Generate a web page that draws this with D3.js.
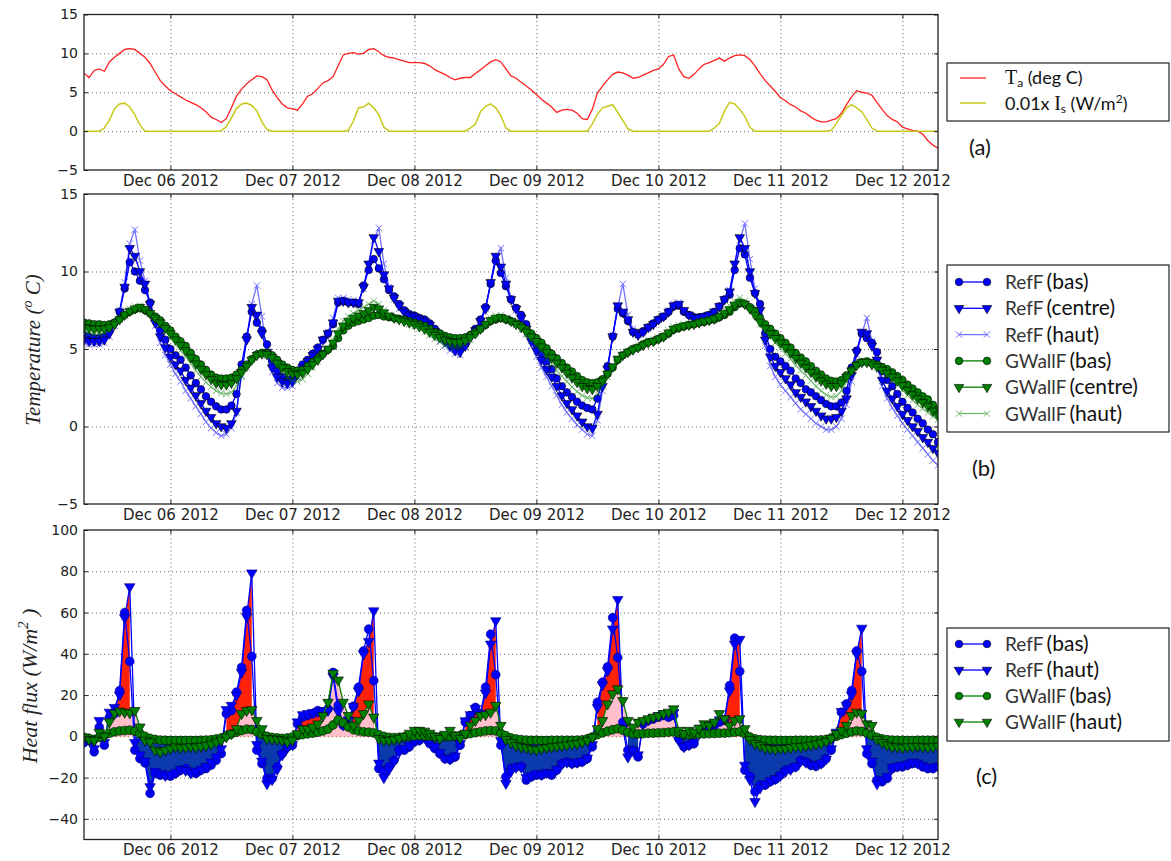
<!DOCTYPE html>
<html><head><meta charset="utf-8">
<script src="https://cdn.jsdelivr.net/npm/d3@7"></script>
<style>body{margin:0;background:#fff;} svg{display:block;}</style>
</head><body><svg id="c" width="1171" height="861"></svg>
<script>
// ---------- data (hourly, starting 2012-12-05 07:00) ----------
const startTime = "2012-12-05T07:00:00Z";
const endTime = "2012-12-12T07:00:00Z";
const dayTicks = ["2012-12-06","2012-12-07","2012-12-08","2012-12-09","2012-12-10","2012-12-11","2012-12-12"];
const tempTicks = [-5, 0, 5, 10, 15];
const fluxTicks = [-50, -40, -20, 0, 20, 40, 60, 80, 100];

// (a) air temperature and 0.01 x solar irradiance
const Ta = [7.45,6.9,7.8,8.0,7.7,8.9,9.5,10.0,10.5,10.6,10.5,10.0,
9.5,8.7,7.6,6.5,5.8,5.2,4.8,4.4,4.0,3.7,3.4,3.0,
2.5,1.8,1.5,1.1,1.6,3.0,4.5,5.4,6.1,6.6,7.1,7.0,
6.6,5.3,4.3,3.5,3.0,2.9,2.7,3.5,4.5,4.8,5.5,6.2,
6.5,7.0,8.4,9.8,10.0,10.1,9.9,10.0,10.5,10.6,10.2,9.7,
9.5,9.4,9.2,9.0,8.8,8.8,8.8,8.7,8.4,7.9,7.6,7.3,
6.9,6.6,6.8,6.9,6.9,7.4,7.9,8.4,8.9,9.2,8.9,8.0,
7.1,6.8,6.3,5.8,5.3,4.7,4.1,3.6,3.1,2.4,2.7,2.8,
2.7,2.3,1.6,1.5,2.8,4.9,5.8,6.6,7.3,7.6,7.5,7.2,
6.8,6.9,7.2,7.5,7.8,8.0,8.6,9.6,9.8,8.0,7.0,6.8,
7.3,8.0,8.6,8.8,9.1,9.4,9.0,9.4,9.7,9.8,9.7,9.2,
8.4,7.4,6.5,5.8,5.1,4.3,3.9,3.4,3.1,2.6,2.3,1.8,
1.4,1.2,1.2,1.4,1.6,2.3,3.4,4.4,5.2,5.0,4.9,4.6,
3.7,2.8,2.0,1.5,1.2,0.5,0.3,0.1,0.0,-0.4,-1.2,-1.8,
-2.2];
const Is001 = [0,0,0,0,0.4,1.4,2.9,3.5,3.6,3.1,2.1,0.8,
0,0,0,0,0,0,0,0,0,0,0,0,
0,0,0,0.05,0.6,1.7,2.9,3.5,3.6,3.3,2.6,1.2,
0.2,0,0,0,0,0,0,0,0,0,0,0,
0,0,0,0,0.1,1.3,3.0,3.1,3.6,3.0,2.1,0.5,
0,0,0,0,0,0,0,0,0,0,0,0,
0,0,0,0,0.4,0.9,2.5,3.2,3.5,3.0,2.0,0.4,
0,0,0,0,0,0,0,0,0,0,0,0,
0,0,0,0,0.9,2.2,3.0,3.2,3.4,2.4,1.4,0.3,
0,0,0,0,0,0,0,0,0,0,0,0,
0,0,0,0,0.4,1.0,2.6,3.7,3.5,2.8,1.9,0.5,
0,0,0,0,0,0,0,0,0,0,0,0,
0,0,0,0.1,1.0,2.0,3.0,3.4,3.0,2.5,1.5,0.4,
0,0,0,0,0,0,0,0,0,0,0,0,
0];

// (b) temperatures
const refBasT = [5.9,5.8,5.7,5.7,5.8,6.2,6.7,7.4,8.9,10.6,10.0,9.4,
8.8,8.0,6.9,6.2,5.6,5.0,4.6,4.3,3.8,3.3,2.8,2.4,
1.95,1.6,1.3,1.1,1.1,1.35,2.1,4.0,5.8,7.4,6.7,6.2,
5.3,4.2,3.6,3.2,3.0,3.1,3.6,4.0,4.3,4.7,5.1,5.6,
6.0,6.6,8.0,8.1,8.0,8.0,7.9,9.1,10.1,10.8,10.2,9.5,
8.8,8.4,7.9,7.5,7.25,7.15,7.0,6.9,6.65,6.3,6.0,5.7,
5.5,5.2,5.0,5.3,5.9,6.3,6.9,7.7,9.2,10.7,9.9,9.05,
8.2,7.65,7.2,6.6,5.8,5.3,4.7,4.2,3.7,3.1,2.6,2.2,
1.9,1.6,1.35,1.2,1.1,1.8,3.0,3.9,5.8,7.6,7.3,6.8,
6.1,5.95,6.15,6.4,6.65,6.9,7.1,7.4,7.75,7.8,7.4,7.2,
7.05,7.05,7.1,7.2,7.4,7.75,8.2,8.5,10.1,11.5,11.1,9.6,
8.6,7.9,6.0,5.0,4.5,4.2,3.9,3.6,3.1,2.8,2.4,2.2,
1.95,1.7,1.45,1.3,1.3,1.55,2.3,3.8,4.9,6.0,5.7,5.4,
4.8,3.6,3.0,2.6,2.1,1.6,1.2,0.9,0.5,0.2,-0.2,-0.5,
-1.0];
const refCentreT = [5.6,5.5,5.5,5.5,5.6,6.0,6.6,7.4,9.0,11.5,11.0,10.0,
9.2,7.9,6.7,5.8,5.1,4.5,4.0,3.6,3.0,2.5,2.0,1.5,
1.0,0.6,0.2,0.0,-0.1,0.2,1.0,3.5,5.6,7.7,7.2,6.0,
4.8,3.8,3.2,2.9,2.8,2.9,3.4,3.8,4.2,4.6,5.0,5.6,
6.0,6.7,8.1,8.1,8.0,8.0,8.0,9.0,10.5,12.2,11.3,9.8,
8.9,8.3,7.8,7.4,7.2,7.1,6.95,6.8,6.55,6.15,5.8,5.5,
5.2,4.9,4.8,5.2,5.8,6.2,6.8,7.6,9.3,11.0,10.3,9.2,
8.2,7.6,7.0,6.3,5.5,4.9,4.3,3.7,3.2,2.6,2.0,1.5,
1.1,0.7,0.3,0.0,-0.1,0.8,2.6,3.7,5.8,7.8,7.4,6.9,
6.1,5.9,6.1,6.4,6.6,6.9,7.1,7.4,7.8,7.9,7.5,7.2,
7.05,7.05,7.1,7.2,7.4,7.75,8.2,8.7,10.5,12.2,11.5,10.0,
8.6,7.5,5.6,4.5,3.9,3.5,3.1,2.7,2.2,1.9,1.6,1.3,
1.0,0.7,0.5,0.5,0.6,1.0,1.8,3.3,4.8,6.1,6.0,5.2,
4.3,3.0,2.3,1.8,1.3,0.8,0.4,0.0,-0.3,-0.7,-1.0,-1.4,
-1.7];
const refHautT = [5.4,5.3,5.3,5.3,5.4,5.8,6.5,7.5,9.3,11.8,12.7,10.7,
9.4,7.9,6.5,5.4,4.6,4.0,3.4,2.9,2.3,1.8,1.3,0.8,
0.3,-0.1,-0.4,-0.6,-0.5,-0.1,0.9,3.3,5.7,7.9,9.1,7.1,
4.6,3.5,2.8,2.5,2.5,2.6,3.2,3.7,4.1,4.6,5.0,5.6,
6.1,7.0,8.3,8.3,8.2,8.1,8.1,8.9,10.4,12.0,12.8,10.5,
9.0,8.2,7.6,7.2,7.0,6.9,6.8,6.6,6.3,5.9,5.5,5.2,
4.9,4.7,4.6,5.1,5.8,6.1,6.7,7.6,9.2,10.8,11.5,9.6,
8.3,7.5,6.8,6.0,5.2,4.5,3.8,3.2,2.6,2.0,1.4,0.9,
0.5,0.1,-0.2,-0.5,-0.6,0.4,2.3,3.6,5.9,7.7,9.2,7.2,
6.3,5.9,6.0,6.3,6.6,6.9,7.2,7.5,7.9,8.0,7.5,7.2,
7.0,7.0,7.1,7.2,7.4,7.8,8.2,8.8,10.4,12.0,13.1,10.8,
8.9,7.4,5.2,3.9,3.2,2.7,2.3,1.9,1.5,1.1,0.8,0.5,
0.2,0.0,-0.2,-0.2,0.0,0.5,1.4,2.9,4.6,6.0,7.0,5.5,
4.1,2.6,1.8,1.2,0.7,0.2,-0.2,-0.6,-1.0,-1.4,-1.8,-2.2,
-2.5];
const gwBasT = [6.7,6.65,6.6,6.6,6.55,6.6,6.7,6.95,7.2,7.4,7.55,7.65,
7.5,7.3,7.1,6.85,6.5,6.2,5.8,5.5,5.2,4.75,4.35,4.0,
3.65,3.35,3.15,3.1,3.1,3.15,3.35,3.65,4.0,4.35,4.65,4.75,
4.75,4.6,4.3,4.0,3.8,3.65,3.6,3.65,3.9,4.15,4.4,4.7,
4.95,5.2,5.7,6.2,6.5,6.7,6.8,6.9,7.0,7.15,7.2,7.1,
7.05,7.0,6.95,6.9,6.8,6.7,6.6,6.5,6.3,6.1,6.0,5.85,
5.75,5.7,5.7,5.75,5.9,6.1,6.3,6.55,6.8,6.9,7.0,6.9,
6.8,6.65,6.5,6.25,6.0,5.7,5.4,5.05,4.7,4.4,4.1,3.8,
3.55,3.25,3.0,2.85,2.8,2.85,3.05,3.4,3.8,4.3,4.6,4.8,
5.0,5.1,5.3,5.45,5.5,5.65,5.8,6.0,6.25,6.35,6.45,6.55,
6.6,6.7,6.75,6.85,6.9,7.05,7.2,7.4,7.7,7.95,7.9,7.7,
7.45,7.0,6.6,6.3,6.0,5.7,5.4,5.1,4.75,4.45,4.2,3.9,
3.6,3.35,3.1,2.95,2.9,3.0,3.3,3.65,4.0,4.15,4.2,4.1,
4.0,3.85,3.7,3.5,3.25,3.0,2.7,2.45,2.2,1.95,1.75,1.4,
1.1];
const gwCentreT = [6.4,6.35,6.3,6.3,6.3,6.4,6.6,6.9,7.2,7.45,7.6,7.7,
7.55,7.3,7.0,6.7,6.35,6.0,5.6,5.25,4.9,4.45,4.05,3.7,
3.35,3.05,2.8,2.7,2.7,2.8,3.1,3.5,3.9,4.3,4.6,4.7,
4.65,4.45,4.1,3.8,3.55,3.4,3.35,3.45,3.7,4.0,4.3,4.65,
5.0,5.4,6.0,6.5,6.8,7.0,7.15,7.3,7.5,7.7,7.6,7.35,
7.15,7.0,6.9,6.8,6.7,6.6,6.45,6.3,6.1,5.9,5.75,5.6,
5.5,5.45,5.45,5.55,5.75,6.0,6.3,6.6,6.85,7.0,7.05,6.95,
6.8,6.6,6.4,6.1,5.8,5.5,5.15,4.8,4.45,4.1,3.8,3.45,
3.15,2.85,2.6,2.45,2.4,2.6,2.95,3.4,3.85,4.35,4.6,4.8,
4.95,5.1,5.25,5.4,5.5,5.65,5.8,6.05,6.3,6.4,6.5,6.55,
6.6,6.7,6.8,6.85,6.95,7.1,7.3,7.55,7.85,8.0,7.9,7.6,
7.2,6.75,6.35,6.0,5.7,5.4,5.1,4.75,4.4,4.1,3.8,3.5,
3.2,2.95,2.75,2.6,2.6,2.8,3.2,3.6,3.95,4.15,4.15,4.0,
3.85,3.65,3.45,3.2,2.95,2.65,2.35,2.05,1.8,1.55,1.3,1.0,
0.7];
const gwHautT = [6.1,6.0,5.95,5.95,6.0,6.2,6.5,6.9,7.3,7.6,7.75,7.8,
7.6,7.3,6.95,6.55,6.15,5.75,5.3,4.9,4.5,4.05,3.6,3.2,
2.85,2.55,2.3,2.15,2.1,2.2,2.6,3.2,3.8,4.3,4.6,4.7,
4.55,4.25,3.85,3.45,3.15,2.95,2.9,3.05,3.4,3.8,4.2,4.6,
5.05,5.6,6.3,6.8,7.1,7.3,7.5,7.7,7.9,8.1,7.9,7.5,
7.2,7.0,6.85,6.7,6.6,6.45,6.3,6.1,5.9,5.65,5.45,5.25,
5.15,5.1,5.15,5.3,5.6,5.95,6.35,6.7,7.0,7.15,7.2,7.0,
6.8,6.55,6.25,5.9,5.55,5.2,4.8,4.4,4.0,3.6,3.25,2.9,
2.55,2.25,2.0,1.85,1.8,2.1,2.6,3.2,3.8,4.4,4.7,4.9,
5.05,5.2,5.35,5.5,5.6,5.75,5.95,6.2,6.45,6.55,6.6,6.65,
6.7,6.8,6.9,7.0,7.1,7.3,7.55,7.8,8.1,8.3,8.1,7.7,
7.15,6.6,6.15,5.75,5.4,5.05,4.7,4.35,3.95,3.6,3.3,2.95,
2.6,2.3,2.05,1.9,1.95,2.3,2.9,3.5,3.95,4.2,4.25,4.05,
3.8,3.55,3.3,3.0,2.7,2.35,2.0,1.7,1.4,1.15,0.9,0.65,
0.45];

// (c) heat flux
const refBasF = [-3,-2,-7.5,4.5,-4.3,9.3,11,22.2,60,36.3,-6.7,-10.8,
-12.9,-27.6,-18,-18.8,-18.8,-19.3,-18,-16.4,-15.6,-17.2,-18,-16.4,
-15.6,-14,-11.6,-8.4,11,12.5,21.4,33.4,61,38.7,-6.7,-13.2,
-20.4,-20.4,-14.8,-8.4,-5.1,-4.3,6,9.3,10,11,12.5,11.7,
13.3,31,15,5.3,7.7,14.6,23.8,41.4,52,27,-15.6,-17.2,
-14.8,-11.6,-6.4,-6.7,-5.1,-2.7,-1.9,-0.3,-3.5,-5.9,-8.4,-10.8,
-11.2,-10,-4.3,6.9,10.1,14,11,23.8,49.5,29.9,-4.3,-19.6,
-15.6,-14.8,-14.5,-21.2,-19.6,-18.8,-18.8,-18,-18.8,-16.4,-13.2,-12.4,
-13.2,-12.9,-12.4,-10.8,-5.1,16.5,26.2,33.7,57.5,38.2,6.9,-6.7,
-6.7,-10,6,7.7,8.5,9.3,10.1,9.3,10.1,-1.1,-5.1,-4.3,
-3.5,1.3,3.7,2.9,5.3,6.9,7.7,24.6,47.6,31.5,-16.4,-19.3,
-26.8,-23.6,-23.6,-22,-20.9,-18.8,-16.4,-15.6,-14.8,-11.6,-12.4,-14,
-14.5,-13.2,-10.8,-6.7,1.3,11.7,15.7,22.2,41.4,31.5,-8.4,-13.2,
-21.2,-22,-20.4,-15.6,-14.8,-14.8,-14,-13.2,-13.2,-14.8,-15.6,-15.6,
-14.8];
const refHautF = [-2.5,-1.5,-6,7.7,-3,11.7,14,20,57.5,72.5,-3,-9,
-12,-24.4,-17,-18,-19,-18.5,-17.5,-16,-16.5,-17.8,-17,-16,
-14.5,-12.5,-10,-6,13,15,20,31,58,79.2,-4,-12,
-23,-21,-16,-9,-5.5,-4,7,10.5,11,11.5,12,12.5,
12.5,29,12,5.5,8,14.5,22,40,46,60.8,-13,-20,
-16,-12,-7.5,-6,-4.5,-2.2,-1.6,-0.6,-3,-5,-8,-10.5,
-11,-9.5,-3.5,7.5,10.5,13.5,11,21,44.7,56,-2,-22.8,
-17,-15,-15,-20,-19,-18,-18.5,-17.5,-18,-16,-13.5,-12.5,
-13,-12.5,-12,-10.5,-4,14,25,31.8,52,66.3,4,-10,
-7,-9,6.5,8,9,10,11,10,11.5,-2,-5,-4,
-3,1.5,4,3.5,6,8,8.5,22,44.7,47,-14,-21,
-31.6,-25,-23,-21.5,-20.5,-19,-17,-16,-14.5,-12,-12.5,-13.5,
-14,-13,-11,-6,2,12,15,20,40,52.4,-6,-12,
-23,-21,-19.5,-15,-14.5,-14,-13.5,-12.5,-13,-14,-15,-15,
-14.5];
const gwBasF = [-0.5,-1,-1.5,-0.5,0.5,1.5,2.2,2.6,2.8,3,2.5,1.5,
0,-1,-1.5,-1.8,-1.9,-2,-2,-2,-2,-2,-2,-1.9,
-1.8,-1.6,-1.3,-0.8,0.3,1.2,2,2.8,3.5,3.3,2.2,1,
0,-0.5,-0.8,-1,-0.8,-0.3,0.3,0.8,1.2,1.6,2,2.6,
3.5,5.5,8,6.5,4.5,3.2,2.6,2.2,2,1.7,0.8,0,
-0.5,-0.6,-0.5,-0.3,0,0.2,0.3,0.2,0,-0.2,-0.3,-0.2,
0,0.2,0.4,0.8,1.3,1.8,2.2,2.6,2.8,2.6,1.5,0.3,
-0.8,-1.3,-1.6,-1.8,-1.9,-1.9,-2,-2,-1.9,-1.9,-1.9,-1.9,
-1.9,-1.8,-1.7,-1.2,-0.3,0.8,1.7,2.5,3.2,3.7,3,2,
1.3,1.2,1.3,1.5,1.6,1.7,1.8,2,2.2,1.5,0.8,0.8,
0.9,1.1,1.2,1.3,1.4,1.5,1.6,1.8,2,2.2,1.2,-0.3,
-1.2,-1.6,-1.8,-1.9,-1.9,-2,-2,-2,-1.9,-1.9,-1.9,-1.9,
-1.8,-1.7,-1.5,-0.8,0,0.8,1.5,2.2,2.6,2.4,1.6,0.5,
-0.5,-1.2,-1.6,-1.8,-1.9,-1.9,-2,-2,-1.9,-1.9,-1.9,-1.9,
-1.9];
const gwHautF = [-0.3,-1.5,-2,2,0,7,11.2,12.2,11.7,11.4,12.5,4.5,
-1.9,-2.7,-6.7,-7.5,-6.7,-5.9,-5.1,-5.5,-5.3,-5,-5.2,-4.8,
-4.5,-3.8,-2.8,-1.9,-0.3,1.3,3.7,11,12.5,12.9,7.7,3.7,
-1.1,-1.3,-1.5,-1.9,-2.7,-1.9,1.3,3.7,3.5,4.5,6,10,
16.5,30.5,27.3,16.5,10.1,5.3,7.7,11,15.7,9.3,-1.1,-1.9,
-2,-1.5,-1,0,1.5,2.9,2.9,2.5,1.5,0,-1,1,
2.9,0.5,-1,1.5,5.3,7.7,10.1,10.5,11.7,15,5.3,-1.5,
-3,-4.5,-5.1,-5.5,-6.2,-6.5,-5.9,-5.5,-5.1,-4.8,-4.5,-4.2,
-3.8,-3.5,-2.8,-2,-0.5,3.7,7.7,15.7,20.6,23,17.3,7.7,
4.5,6.9,7.7,8.5,9.3,10,11,11.7,13.3,2.9,1.3,2.9,
2.1,4,6.1,5.3,6.9,11,8.5,5.3,7.7,8.5,3.7,-1.5,
-3.5,-4.5,-5.5,-5.9,-6.2,-5.9,-5.9,-5.5,-5.1,-5,-4.6,-4.2,
-3.8,-3.2,-2.4,-1,1.3,2.9,5.3,10.1,11.7,11,6.1,5.3,
-1.5,-3,-4.2,-5.1,-5.1,-5.5,-5.1,-5.1,-4.8,-5.1,-5.3,-5.1,
-4.8];

// ---------- drawing ----------
const svg = d3.select("#c");
const X0 = 84, X1 = 938;
const x = d3.scaleUtc().domain([new Date(startTime), new Date(endTime)]).range([X0, X1]);
const times = Ta.map((_, i) => d3.utcHour.offset(new Date(startTime), i));
const dayDates = dayTicks.map(s => new Date(s + "T00:00:00Z"));
const fmtDay = d3.utcFormat("%b %d %Y");

const BLUE = "#0000ff", GREEN = "#008000";

function makePanel(id, top, bottom, domain, gridTicks, labelTicks) {
  const y = d3.scaleLinear().domain(domain).range([bottom, top]);
  const g = svg.append("g");
  svg.append("defs").append("clipPath").attr("id", id)
    .append("rect").attr("x", X0).attr("y", top).attr("width", X1 - X0).attr("height", bottom - top);
  const H = bottom - top, W = X1 - X0;
  const gx = g.append("g").attr("transform", `translate(0,${bottom})`)
    .call(d3.axisBottom(x).tickValues(dayDates).tickSize(-H).tickFormat(""));
  const gy = g.append("g").attr("transform", `translate(${X0},0)`)
    .call(d3.axisLeft(y).tickValues(gridTicks).tickSize(-W).tickFormat(""));
  [gx, gy].forEach(a => {
    a.select(".domain").remove();
    a.selectAll("line").attr("stroke", "#666").attr("stroke-width", 1).attr("stroke-dasharray", "1,3");
  });
  const data = g.append("g").attr("clip-path", `url(#${id})`);
  return { y, g, data, top, bottom, labelTicks };
}

function finishPanel(p) {
  const { y, g, top, bottom } = p;
  const font = "DejaVu Sans, sans-serif";
  const ax = g.append("g");
  const b = ax.append("g").attr("transform", `translate(0,${bottom})`)
    .call(d3.axisBottom(x).tickValues(dayDates).tickSizeInner(-4).tickSizeOuter(0).tickPadding(5).tickFormat(fmtDay));
  b.selectAll("text").attr("font-family", font).attr("font-size", 15).attr("fill", "#222");
  const t = ax.append("g").attr("transform", `translate(0,${top})`)
    .call(d3.axisTop(x).tickValues(dayDates).tickSizeInner(-4).tickSizeOuter(0).tickFormat(""));
  const l = ax.append("g").attr("transform", `translate(${X0},0)`)
    .call(d3.axisLeft(y).tickValues(p.labelTicks).tickSizeInner(-4).tickSizeOuter(0).tickPadding(6)
      .tickFormat(d => d3.format("d")(d).replace("-", "\u2212")));
  l.selectAll("text").attr("font-family", font).attr("font-size", 14).attr("fill", "#222");
  const r = ax.append("g").attr("transform", `translate(${X1},0)`)
    .call(d3.axisRight(y).tickValues(p.labelTicks).tickSizeInner(-4).tickSizeOuter(0).tickFormat(""));
  [b, t, l, r].forEach(a => { a.select(".domain").remove(); a.selectAll("line").attr("stroke", "#222"); });
  ax.append("rect").attr("x", X0).attr("y", top).attr("width", X1 - X0).attr("height", bottom - top)
    .attr("fill", "none").attr("stroke", "#222").attr("stroke-width", 1.3);
}

function markerPath(kind, s) {
  if (kind === "o") return d3.symbol(d3.symbolCircle, Math.PI * s * s)();
  if (kind === "v") return d3.symbol(d3.symbolTriangle, s)();
  if (kind === "x") return `M${-s},${-s}L${s},${s}M${-s},${s}L${s},${-s}`;
  return "";
}

function drawSeries(p, vals, o) {
  const line = d3.line().x((d, i) => x(times[i])).y(d => p.y(d));
  const grp = p.data.append("g").attr("opacity", o.alpha || 1);
  grp.append("path").attr("d", line(vals)).attr("fill", "none")
    .attr("stroke", o.color).attr("stroke-width", o.lw || 1.3);
  const m = grp.selectAll(null).data(vals).enter().append("path")
    .attr("transform", (d, i) => `translate(${x(times[i])},${p.y(d)})` + (o.marker === "v" ? " rotate(180)" : ""))
    .attr("d", markerPath(o.marker, o.size));
  if (o.marker === "x") m.attr("fill", "none").attr("stroke", o.color).attr("stroke-width", 1);
  else m.attr("fill", o.color).attr("stroke", o.edge || "#000").attr("stroke-width", 0.6);
}

function fillArea(p, vals, color, positive) {
  const area = d3.area()
    .defined(d => positive ? d > 0 : d < 0)
    .x((d, i) => x(times[i])).y0(p.y(0)).y1(d => p.y(d));
  p.data.append("path").attr("d", area(vals)).attr("fill", color).attr("stroke", "none");
}

// ---- panel (a)
const pa = makePanel("clipA", 14.5, 170, [-5, 15], [0, 5, 10], tempTicks);
{
  const line = d3.line().x((d, i) => x(times[i])).y(d => pa.y(d));
  pa.data.append("path").attr("d", line(Ta)).attr("fill", "none").attr("stroke", "#ff2020").attr("stroke-width", 1.3);
  pa.data.append("path").attr("d", line(Is001)).attr("fill", "none").attr("stroke", "#c8c81a").attr("stroke-width", 1.5);
}
finishPanel(pa);

// ---- panel (b)
const pb = makePanel("clipB", 194, 504, [-5, 15], [0, 5, 10], tempTicks);
drawSeries(pb, refBasT, { color: BLUE, marker: "o", size: 3.8 });
drawSeries(pb, refCentreT, { color: BLUE, marker: "v", size: 40 });
drawSeries(pb, refHautT, { color: BLUE, marker: "x", size: 3.2, alpha: 0.55 });
drawSeries(pb, gwBasT, { color: GREEN, marker: "o", size: 3.8 });
drawSeries(pb, gwCentreT, { color: GREEN, marker: "v", size: 40 });
drawSeries(pb, gwHautT, { color: GREEN, marker: "x", size: 3.2, alpha: 0.55 });
finishPanel(pb);

// ---- panel (c)
const pc = makePanel("clipC", 530, 839.5, [-50, 100], [-40, -20, 0, 20, 40, 60, 80], fluxTicks.filter(v => v !== -50));
fillArea(pc, gwHautF, "#87cefa", false);
fillArea(pc, refBasF, "#0b3aad", false);
fillArea(pc, refHautF, "#ff2208", true);
fillArea(pc, gwHautF, "#ffbfcb", true);
drawSeries(pc, refBasF, { color: BLUE, marker: "o", size: 4.4, edge: "#000080" });
drawSeries(pc, refHautF, { color: BLUE, marker: "v", size: 48, edge: "#000080" });
drawSeries(pc, gwBasF, { color: GREEN, marker: "o", size: 4.4 });
drawSeries(pc, gwHautF, { color: GREEN, marker: "v", size: 48 });
finishPanel(pc);

// ---- axis titles
svg.append("text").attr("transform", "translate(40,350) rotate(-90)").attr("text-anchor", "middle")
  .attr("font-family", "Liberation Serif, DejaVu Serif, serif").attr("font-style", "italic").attr("font-size", 21).attr("fill", "#222")
  .html('Temperature (<tspan dy="-8" font-size="14">o</tspan><tspan dy="8"> C)</tspan>');
svg.append("text").attr("transform", "translate(37,686) rotate(-90)").attr("text-anchor", "middle")
  .attr("font-family", "Liberation Serif, DejaVu Serif, serif").attr("font-style", "italic").attr("font-size", 22).attr("fill", "#222")
  .html('Heat flux (W/m<tspan dy="-9" font-size="15">2</tspan><tspan dy="9"> )</tspan>');

// ---- legends
const LF = "Lato, 'Open Sans', sans-serif";
function legendBox(x0, y0, x1, y1) {
  svg.append("rect").attr("x", x0).attr("y", y0).attr("width", x1 - x0).attr("height", y1 - y0)
    .attr("fill", "#fff").attr("stroke", "#222").attr("stroke-width", 1.2);
}
// (a)
legendBox(947, 63, 1169, 121);
svg.append("line").attr("x1", 960).attr("x2", 986).attr("y1", 78).attr("y2", 78).attr("stroke", "#ff2020").attr("stroke-width", 1.3);
svg.append("line").attr("x1", 960).attr("x2", 986).attr("y1", 103).attr("y2", 103).attr("stroke", "#c8c81a").attr("stroke-width", 1.5);
svg.append("text").attr("x", 1005).attr("y", 84).attr("font-family", LF).attr("font-size", 18).attr("fill", "#111")
  .html('<tspan font-family="Liberation Serif, serif" font-size="20">T</tspan><tspan font-size="12" dy="3">a</tspan><tspan dy="-3"> (deg C)</tspan>');
svg.append("text").attr("x", 1005).attr("y", 110).attr("font-family", LF).attr("font-size", 18).attr("fill", "#111")
  .html('0.01x <tspan font-family="Liberation Serif, serif" font-size="20">I</tspan><tspan font-size="12" dy="3">s</tspan><tspan dy="-3"> (W/m</tspan><tspan font-size="12" dy="-7">2</tspan><tspan dy="7">)</tspan>');
svg.append("text").attr("x", 969).attr("y", 155).attr("font-family", LF).attr("font-size", 22).attr("fill", "#111").text("(a)");

function legendEntry(yc, color, marker, size, alpha, name, tag, edge) {
  const g = svg.append("g").attr("opacity", alpha || 1);
  g.append("line").attr("x1", 959).attr("x2", 987).attr("y1", yc).attr("y2", yc).attr("stroke", color).attr("stroke-width", 1.3);
  [959, 987].forEach(px => {
    const m = g.append("path").attr("transform", `translate(${px},${yc})` + (marker === "v" ? " rotate(180)" : ""))
      .attr("d", markerPath(marker, size));
    if (marker === "x") m.attr("fill", "none").attr("stroke", color).attr("stroke-width", 1);
    else m.attr("fill", color).attr("stroke", edge || "#000").attr("stroke-width", 0.6);
  });
  const t = svg.append("text").attr("x", 1005).attr("y", yc + 7).attr("font-family", LF).attr("fill", "#111");
  t.append("tspan").attr("font-size", 19).attr("fill", "#333").text(name);
  t.append("tspan").attr("font-size", 21).attr("dx", 3).text(tag);
}
// (b)
legendBox(947, 265, 1169, 432);
const legB = [
  [BLUE, "o", 3.8, 1, "RefF", "(bas)"], [BLUE, "v", 40, 1, "RefF", "(centre)"], [BLUE, "x", 3.2, 0.55, "RefF", "(haut)"],
  [GREEN, "o", 3.8, 1, "GWallF", "(bas)"], [GREEN, "v", 40, 1, "GWallF", "(centre)"], [GREEN, "x", 3.2, 0.55, "GWallF", "(haut)"]];
legB.forEach((e, i) => legendEntry(282 + i * 26.3, e[0], e[1], e[2], e[3], e[4], e[5]));
svg.append("text").attr("x", 972).attr("y", 476).attr("font-family", LF).attr("font-size", 22).attr("fill", "#111").text("(b)");
// (c)
legendBox(947, 628, 1169, 741);
const legC = [[BLUE, "o", 3.8, "RefF", "(bas)"], [BLUE, "v", 40, "RefF", "(haut)"], [GREEN, "o", 3.8, "GWallF", "(bas)"], [GREEN, "v", 40, "GWallF", "(haut)"]];
legC.forEach((e, i) => legendEntry(644 + i * 26, e[0], e[1], e[2], 1, e[3], e[4]));
svg.append("text").attr("x", 976).attr("y", 784).attr("font-family", LF).attr("font-size", 22).attr("fill", "#111").text("(c)");
</script>
</body></html>
